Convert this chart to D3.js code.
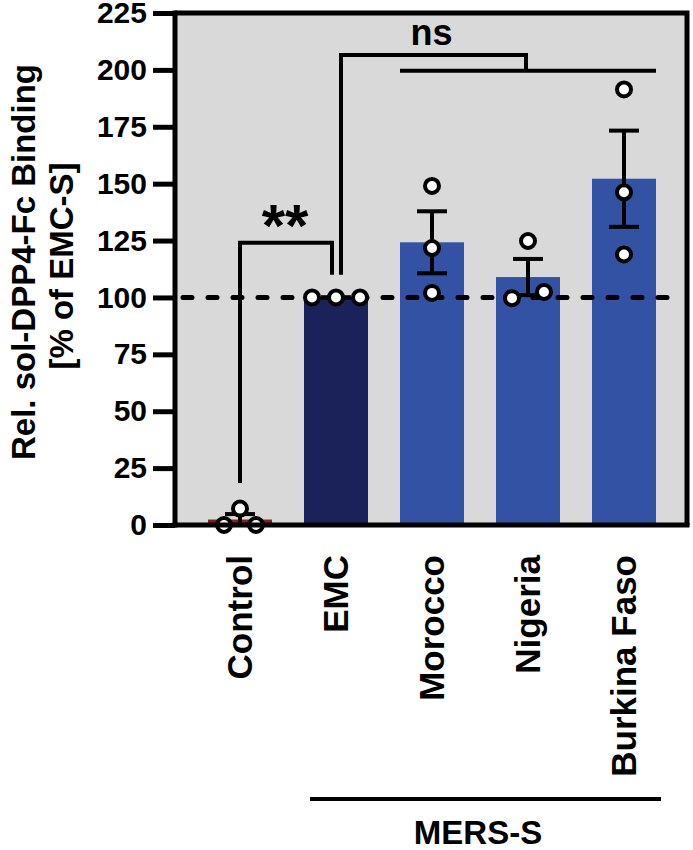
<!DOCTYPE html>
<html>
<head>
<meta charset="utf-8">
<script src="https://cdn.jsdelivr.net/npm/d3@7"></script>
<style>
  html, body { margin: 0; padding: 0; background: #ffffff; }
  svg { display: block; }
  text { font-family: "Liberation Sans", Arial, sans-serif; font-weight: bold; fill: #000; }
</style>
</head>
<body>
<svg id="chart" width="693" height="850"></svg>
<script>
// ---- data ----
const categories = ["Control", "EMC", "Morocco", "Nigeria", "Burkina Faso"];
const controlValues = [0, 7.2, 0];
const emcValues = [100, 100, 100];
const moroccoValues = [149, 121.7, 102];
const nigeriaValues = [99.7, 124.8, 102.4];
const burkinaValues = [191.4, 146.2, 118.9];
const yTicks = [0, 25, 50, 75, 100, 125, 150, 175, 200, 225];
const barColors = ["#8c1b1b", "#1b2259", "#3452a3", "#3452a3", "#3452a3"];
const groupLabel = "MERS-S";
const yTitle = ["Rel. sol-DPP4-Fc Binding", "[% of EMC-S]"];
const referenceLine = 100;
// significance annotations (in data units)
const sig1 = { label: "**", from: "Control", to: "EMC", top: 124, fromBottom: 18.5, toBottom: 110 };
const sig2 = { label: "ns", from: "EMC", to: "Nigeria", top: 206.5, fromBottom: 110, groupLine: 199.6, groupFrom: "Morocco", groupTo: "Burkina Faso" };

const groups = categories.map((c, i) => ({
  name: c,
  values: [controlValues, emcValues, moroccoValues, nigeriaValues, burkinaValues][i],
  color: barColors[i]
}));
groups.forEach(g => {
  g.mean = d3.mean(g.values);
  g.sem = d3.deviation(g.values) / Math.sqrt(g.values.length);
});

// ---- layout ----
const svg = d3.select("#chart");
const plotLeft = 175, plotRight = 687, plotTop = 13, plotBottom = 525;

const y = d3.scaleLinear().domain([0, 225]).range([plotBottom, plotTop]);
const x = d3.scaleBand().domain(categories).range([192, 672]).paddingInner(1 / 3).paddingOuter(1 / 6);
const bw = x.bandwidth();
const cx = c => x(c) + bw / 2;

// background
svg.append("rect").attr("x", plotLeft).attr("y", plotTop)
  .attr("width", plotRight - plotLeft).attr("height", plotBottom - plotTop)
  .attr("fill", "#d9d9d9");

// bars
svg.append("g").selectAll("rect").data(groups).join("rect")
  .attr("x", d => x(d.name)).attr("width", bw)
  .attr("y", d => y(d.mean)).attr("height", d => y(0) - y(d.mean))
  .attr("fill", d => d.color);

// reference dashed line
svg.append("line")
  .attr("x1", plotLeft + 8).attr("x2", plotRight - 10)
  .attr("y1", y(referenceLine)).attr("y2", y(referenceLine))
  .attr("stroke", "#000").attr("stroke-width", 5)
  .attr("stroke-dasharray", "9,16").attr("stroke-linecap", "round");

// error bars
const eb = svg.append("g").attr("stroke", "#000").attr("stroke-width", 4);
groups.forEach(g => {
  const c = cx(g.name), lo = y(g.mean - g.sem), hi = y(g.mean + g.sem);
  eb.append("line").attr("x1", c).attr("x2", c).attr("y1", lo).attr("y2", hi);
  eb.append("line").attr("x1", c - 15).attr("x2", c + 15).attr("y1", hi).attr("y2", hi);
  eb.append("line").attr("x1", c - 15).attr("x2", c + 15).attr("y1", lo).attr("y2", lo);
});

// points with simple overlap spreading
const pts = [];
groups.forEach(g => {
  const ys = g.values.map(v => y(v));
  let overlap = false;
  for (let i = 0; i < ys.length; i++)
    for (let j = i + 1; j < ys.length; j++)
      if (Math.abs(ys[i] - ys[j]) < 18) overlap = true;
  const allEqual = d3.max(g.values) === d3.min(g.values);
  const spacing = allEqual ? 24 : 16;
  g.values.forEach((v, i) => {
    const off = overlap ? (i - (g.values.length - 1) / 2) * spacing : 0;
    pts.push({ x: cx(g.name) + off, y: y(v) });
  });
});
svg.append("g").selectAll("circle").data(pts).join("circle")
  .attr("cx", d => d.x).attr("cy", d => d.y).attr("r", 7)
  .attr("fill", "#fff").attr("stroke", "#000").attr("stroke-width", 4);

// significance brackets
const br = svg.append("g").attr("fill", "none").attr("stroke", "#000").attr("stroke-width", 4);
{
  const xa = cx(sig1.from), xb = cx(sig1.to) - 4;
  br.append("path").attr("d", `M${xa},${y(sig1.fromBottom)}V${y(sig1.top)}H${xb}V${y(sig1.toBottom)}`);
  svg.append("text").attr("x", (xa + xb) / 2 - 1).attr("y", y(sig1.top) + 3)
    .attr("text-anchor", "middle").attr("font-size", 60).text(sig1.label);
}
{
  const xa = cx(sig2.from) + 5, xb = cx(sig2.to) - 2;
  br.append("path").attr("d", `M${xa},${y(sig2.fromBottom)}V${y(sig2.top)}H${xb}V${y(sig2.groupLine)}`);
  br.append("line").attr("x1", x(sig2.groupFrom)).attr("x2", x(sig2.groupTo) + bw)
    .attr("y1", y(sig2.groupLine)).attr("y2", y(sig2.groupLine));
  svg.append("text").attr("x", (xa + xb) / 2 - 2).attr("y", y(sig2.top) - 10)
    .attr("text-anchor", "middle").attr("font-size", 36).text(sig2.label);
}

// y axis
const yAxis = svg.append("g").attr("transform", `translate(${plotLeft},0)`)
  .call(d3.axisLeft(y).tickValues(yTicks).tickSize(22).tickSizeOuter(0).tickPadding(6));
yAxis.select(".domain").attr("stroke", "#000").attr("stroke-width", 5)
  .attr("d", `M0,${plotTop - 2.5}V${plotBottom + 2.5}`);
yAxis.selectAll(".tick line").attr("stroke", "#000").attr("stroke-width", 5);
yAxis.selectAll(".tick text").attr("font-size", 30).attr("font-family", "Liberation Sans, Arial, sans-serif")
  .attr("font-weight", "bold").attr("fill", "#000");

// frame: top, right, bottom
svg.append("path").attr("fill", "none").attr("stroke", "#000").attr("stroke-width", 5)
  .attr("d", `M${plotLeft},${plotTop}H${plotRight}V${plotBottom}`);
svg.append("line").attr("x1", plotLeft - 2.5).attr("x2", plotRight + 2.5)
  .attr("y1", plotBottom).attr("y2", plotBottom)
  .attr("stroke", "#000").attr("stroke-width", 5);

// category labels
svg.append("g").selectAll("text").data(categories).join("text")
  .attr("transform", d => `translate(${cx(d)},555) rotate(-90)`)
  .attr("text-anchor", "end").attr("dy", "0.35em").attr("font-size", 35).text(d => d);

// group line + label
svg.append("line").attr("x1", x("EMC") + 6).attr("x2", x("Burkina Faso") + bw + 5)
  .attr("y1", 799).attr("y2", 799).attr("stroke", "#000").attr("stroke-width", 4);
svg.append("text").attr("x", (cx("EMC") + cx("Burkina Faso")) / 2 - 2).attr("y", 844)
  .attr("text-anchor", "middle").attr("font-size", 33).text(groupLabel);

// y title
svg.append("text").attr("transform", `translate(35,262) rotate(-90)`)
  .attr("text-anchor", "middle").attr("font-size", 33).text(yTitle[0]);
svg.append("text").attr("transform", `translate(73,266) rotate(-90)`)
  .attr("text-anchor", "middle").attr("font-size", 33).text(yTitle[1]);
</script>
</body>
</html>
